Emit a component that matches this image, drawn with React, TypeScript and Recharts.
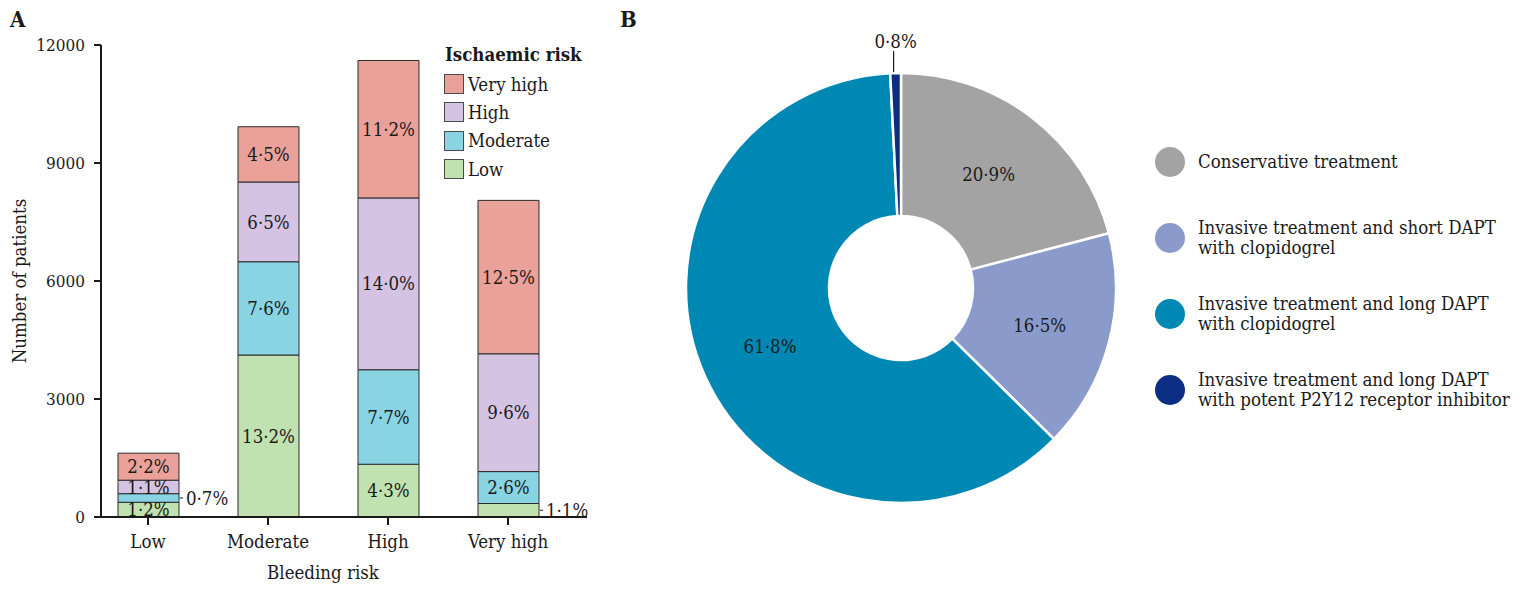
import React from 'react';
import {
    BarChart,
    Bar,
    XAxis,
    YAxis,
    LabelList,
    Legend,
    PieChart,
    Pie,
    Cell,
} from 'recharts';

const FONT = "'DejaVu Serif Condensed', 'DejaVu Serif', serif";
const INK = '#1a1a1a';
const TEXT_SIZE = 18.5;

// Panel A: patients by bleeding risk, stacked by ischaemic risk (% of all patients)
const TOTAL_PATIENTS = 31200;
const bleedingCategories = ['Low', 'Moderate', 'High', 'Very high'];
const pctIschLow = [1.2, 13.2, 4.3, 1.1];
const pctIschModerate = [0.7, 7.6, 7.7, 2.6];
const pctIschHigh = [1.1, 6.5, 14.0, 9.6];
const pctIschVeryHigh = [2.2, 4.5, 11.2, 12.5];
// segments too thin to hold their label get it beside the bar
const outsideIschLow = [false, false, false, true];
const outsideIschModerate = [true, false, false, false];
const yTicks = [0, 3000, 6000, 9000, 12000];

const ischSeries = [
    { key: 'low', name: 'Low', color: '#c0e1b0', pct: pctIschLow, outside: outsideIschLow },
    { key: 'moderate', name: 'Moderate', color: '#88d4e3', pct: pctIschModerate, outside: outsideIschModerate },
    { key: 'high', name: 'High', color: '#d5c3e3', pct: pctIschHigh, outside: [false, false, false, false] },
    { key: 'veryHigh', name: 'Very high', color: '#e9a19a', pct: pctIschVeryHigh, outside: [false, false, false, false] },
];

// Panel B: treatment strategy
const treatmentNames = [
    ['Conservative treatment'],
    ['Invasive treatment and short DAPT', 'with clopidogrel'],
    ['Invasive treatment and long DAPT', 'with clopidogrel'],
    ['Invasive treatment and long DAPT', 'with potent P2Y12 receptor inhibitor'],
];
const treatmentPct = [20.9, 16.5, 61.8, 0.8];
const treatmentColors = ['#a3a3a3', '#8a9bcb', '#0088b4', '#0b2d82'];

const fmt = (v: number) => v.toFixed(1).replace('.', '·');

const barData = bleedingCategories.map((category, i) => {
    const row: Record<string, any> = { category };
    ischSeries.forEach((s) => {
        row[s.key] = (s.pct[i] / 100) * TOTAL_PATIENTS;
        row[s.key + 'Pct'] = s.pct[i];
    });
    return row;
});

const pieData = treatmentNames.map((lines, i) => ({
    name: lines.join(' '),
    lines,
    value: treatmentPct[i],
    color: treatmentColors[i],
}));

const makeSegmentLabel = (outside: boolean[]) => (props: any) => {
    const { x, y, width, height, value, index } = props;
    const cy = y + height / 2;
    if (outside[index]) {
        const right = x + width;
        return (
            <g>
                <line x1={right + 1} y1={cy} x2={right + 4} y2={cy} stroke={INK} strokeWidth={1} />
                <text x={right + 7} y={cy} dy="0.36em" fontSize={TEXT_SIZE} fontFamily={FONT} fill={INK}>
                    {fmt(value)}%
                </text>
            </g>
        );
    }
    return (
        <text x={x + width / 2} y={cy} dy="0.36em" textAnchor="middle" fontSize={TEXT_SIZE} fontFamily={FONT} fill={INK}>
            {fmt(value)}%
        </text>
    );
};

const IschaemicLegend = () => (
    <div style={{ fontFamily: FONT, color: INK }}>
        <div style={{ fontWeight: 'bold', fontSize: 18.5, marginBottom: 5, marginLeft: 1 }}>Ischaemic risk</div>
        {[...ischSeries].reverse().map((s) => (
            <div key={s.key} style={{ display: 'flex', alignItems: 'center', height: 28.3, fontSize: TEXT_SIZE }}>
                <span
                    style={{
                        display: 'inline-block',
                        width: 18,
                        height: 18,
                        background: s.color,
                        border: '1px solid #4a4a4a',
                        marginRight: 4,
                    }}
                />
                {s.name}
            </div>
        ))}
    </div>
);

const TreatmentLegend = () => (
    <div style={{ fontFamily: FONT, color: INK, fontSize: TEXT_SIZE }}>
        {pieData.map((d) => (
            <div key={d.name} style={{ display: 'flex', alignItems: 'center', height: 76 }}>
                <span
                    style={{
                        display: 'inline-block',
                        width: 30,
                        height: 30,
                        borderRadius: '50%',
                        background: d.color,
                        marginRight: 13,
                        flexShrink: 0,
                    }}
                />
                <div style={{ lineHeight: '20px' }}>
                    {d.lines.map((l) => (
                        <div key={l}>{l}</div>
                    ))}
                </div>
            </div>
        ))}
    </div>
);

const RADIAN = Math.PI / 180;

const renderPieLabel = (props: any) => {
    const { cx, cy, midAngle, innerRadius, outerRadius, value } = props;
    const cos = Math.cos(-midAngle * RADIAN);
    const sin = Math.sin(-midAngle * RADIAN);
    if (value < 2) {
        const x = cx + outerRadius * cos;
        const y = cy + outerRadius * sin;
        return (
            <g>
                <line x1={x - 2} y1={y - 1} x2={x - 2} y2={y - 22} stroke={INK} strokeWidth={1.2} />
                <text x={x} y={y - 25} textAnchor="middle" fontSize={TEXT_SIZE} fontFamily={FONT} fill={INK}>
                    {fmt(value)}%
                </text>
            </g>
        );
    }
    const r = (innerRadius + outerRadius) / 2;
    return (
        <text
            x={cx + r * cos}
            y={cy + r * sin}
            dy="0.36em"
            textAnchor="middle"
            fontSize={TEXT_SIZE}
            fontFamily={FONT}
            fill={INK}
        >
            {fmt(value)}%
        </text>
    );
};

const panelLetter: React.CSSProperties = {
    position: 'absolute',
    top: 6,
    fontFamily: FONT,
    fontWeight: 'bold',
    fontSize: 22,
    color: INK,
};

export default function App() {
    return (
        <div style={{ position: 'absolute', left: 0, top: 0, width: 1531, height: 591, background: '#fff' }}>
            <div style={{ ...panelLetter, left: 10 }}>A</div>
            <div style={{ ...panelLetter, left: 620 }}>B</div>

            <div style={{ position: 'absolute', left: 0, top: 0 }}>
                <BarChart
                    width={600}
                    height={591}
                    data={barData}
                    margin={{ top: 45, right: 13, bottom: 0, left: 0 }}
                    barSize={61}
                >
                    <XAxis
                        dataKey="category"
                        height={74}
                        padding={{ left: -13, right: 19 }}
                        tickSize={8}
                        tickMargin={10}
                        tick={{ fontSize: TEXT_SIZE, fontFamily: FONT, fill: INK }}
                        axisLine={{ stroke: INK, strokeWidth: 2 }}
                        tickLine={{ stroke: INK, strokeWidth: 2 }}
                        label={{
                            content: (p: any) => (
                                <text
                                    x={p.viewBox.x + p.viewBox.width / 2 - 21}
                                    y={p.viewBox.y + 62}
                                    textAnchor="middle"
                                    fontSize={TEXT_SIZE}
                                    fontFamily={FONT}
                                    fill={INK}
                                >
                                    Bleeding risk
                                </text>
                            ),
                        }}
                    />
                    <YAxis
                        width={101}
                        domain={[0, 12000]}
                        ticks={yTicks}
                        interval={0}
                        tickSize={7}
                        tickMargin={9}
                        tick={{ fontSize: 17, fontFamily: FONT, fill: INK }}
                        axisLine={{ stroke: INK, strokeWidth: 2 }}
                        tickLine={{ stroke: INK, strokeWidth: 2 }}
                        label={{
                            content: (p: any) => {
                                const x = p.viewBox.x + 26;
                                const y = p.viewBox.y + p.viewBox.height / 2;
                                return (
                                    <text
                                        x={x}
                                        y={y}
                                        transform={`rotate(-90, ${x}, ${y})`}
                                        textAnchor="middle"
                                        fontSize={TEXT_SIZE}
                                        fontFamily={FONT}
                                        fill={INK}
                                    >
                                        Number of patients
                                    </text>
                                );
                            },
                        }}
                    />
                    <Legend
                        layout="vertical"
                        align="center"
                        verticalAlign="middle"
                        content={<IschaemicLegend />}
                        wrapperStyle={{ left: 444, top: 44, width: 160 }}
                    />
                    {ischSeries.map((s) => (
                        <Bar
                            key={s.key}
                            dataKey={s.key}
                            name={s.name}
                            stackId="ischaemic"
                            fill={s.color}
                            stroke="#2b2b2b"
                            strokeWidth={1}
                            isAnimationActive={false}
                        >
                            <LabelList dataKey={s.key + 'Pct'} content={makeSegmentLabel(s.outside)} />
                        </Bar>
                    ))}
                </BarChart>
            </div>

            <div style={{ position: 'absolute', left: 620, top: 0 }}>
                <PieChart width={911} height={591} margin={{ top: 0, right: 0, bottom: 0, left: 0 }}>
                    <Pie
                        data={pieData}
                        dataKey="value"
                        nameKey="name"
                        cx={281}
                        cy={288}
                        innerRadius={72}
                        outerRadius={215}
                        startAngle={90}
                        endAngle={-270}
                        stroke="#fff"
                        strokeWidth={2.5}
                        label={renderPieLabel}
                        labelLine={false}
                        isAnimationActive={false}
                    >
                        {pieData.map((d) => (
                            <Cell key={d.name} fill={d.color} />
                        ))}
                    </Pie>
                    <Legend
                        layout="vertical"
                        align="center"
                        verticalAlign="middle"
                        content={<TreatmentLegend />}
                        wrapperStyle={{ left: 535, top: 124, width: 380 }}
                    />
                </PieChart>
            </div>
        </div>
    );
}
